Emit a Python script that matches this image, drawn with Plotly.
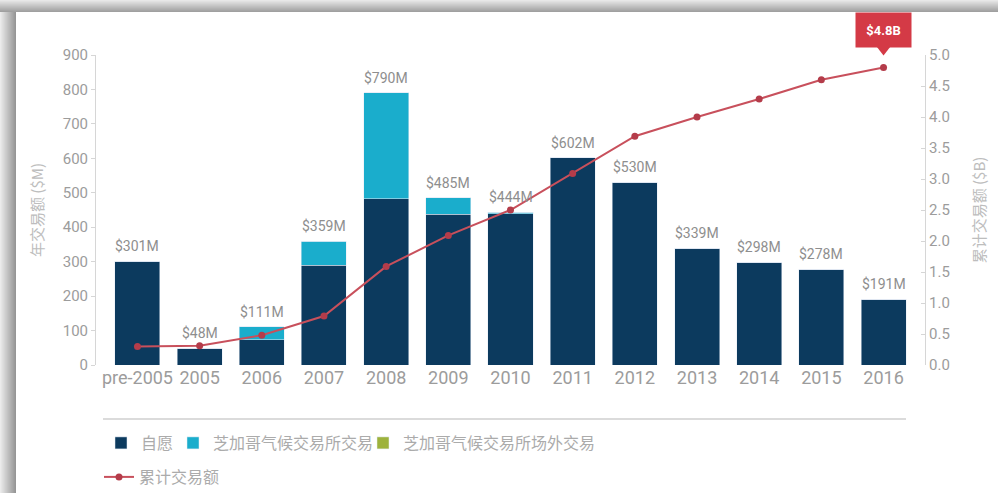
import plotly.graph_objects as go

# Annual transaction volume ($M) split by venue, and cumulative volume ($B)
categories = ["pre-2005", "2005", "2006", "2007", "2008", "2009", "2010",
              "2011", "2012", "2013", "2014", "2015", "2016"]
voluntary = [301, 48, 73, 290, 482, 438, 439, 602, 530, 339, 298, 278, 191]
ccx_exchange = [0, 0, 38, 69, 308, 47, 5, 0, 0, 0, 0, 0, 0]
ccx_otc = [0, 0, 0, 0, 0, 0, 0, 0, 0, 0, 0, 0, 0]
annual_totals = [301, 48, 111, 359, 790, 485, 444, 602, 530, 339, 298, 278, 191]
total_labels = ["$301M", "$48M", "$111M", "$359M", "$790M", "$485M", "$444M",
                "$602M", "$530M", "$339M", "$298M", "$278M", "$191M"]
cumulative = [0.30, 0.31, 0.48, 0.79, 1.59, 2.09, 2.50, 3.09, 3.69, 4.00, 4.29, 4.60, 4.80]
callout_text = "$4.8B"

NAVY = "#0c3a5e"
CYAN = "#1aadcc"
GREEN = "#9db23c"
RED = "#c8505c"
RED_DARK = "#b43c4a"
CALLOUT = "#d43a46"
LABEL_GREY = "#8e8e8e"
TICK_GREY = "#9c9c9c"
TITLE_GREY = "#bdbdbd"
NUM = "Roboto, sans-serif"
CJK = "Noto Sans CJK SC, sans-serif"

W, H = 998, 493
ML, MR, MT, MB = 96, 73, 55, 128
PW, PH = W - ML - MR, H - MT - MB
X_RANGE = [-0.667, 12.667]
Y_RANGE = [0, 900]
Y2_RANGE = [0, 5]


def px_x(p):
    return (p - ML) / PW


def px_y(p):
    return (H - MB - p) / PH


fig = go.Figure()

fig.add_trace(go.Bar(x=categories, y=voluntary, name="自愿", marker_color=NAVY,
                     legend="legend"))
fig.add_trace(go.Bar(x=categories, y=ccx_exchange, name="芝加哥气候交易所交易",
                     marker_color=CYAN, legend="legend2"))
fig.add_trace(go.Bar(x=categories, y=ccx_otc, name="芝加哥气候交易所场外交易",
                     marker_color=GREEN, legend="legend3"))
fig.add_trace(go.Scatter(x=categories, y=cumulative, name="累计交易额", yaxis="y2",
                         mode="lines+markers",
                         line=dict(color=RED, width=2),
                         marker=dict(color=RED_DARK, size=7),
                         legend="legend4"))

# value labels above each stacked bar (category axis positions by index)
annotations = []
for i, (tot, lab) in enumerate(zip(annual_totals, total_labels)):
    annotations.append(dict(x=i, y=tot, xref="x", yref="y", text=lab,
                            showarrow=False, yanchor="bottom", yshift=5,
                            font=dict(family=NUM, size=14, color=LABEL_GREY)))

last = len(categories) - 1
# red callout on the last cumulative point
annotations.append(dict(x=last, y=cumulative[-1], xref="x", yref="y2",
                        text="<b>" + callout_text + "</b>", showarrow=False,
                        yshift=37, width=55, height=34, borderpad=0,
                        bgcolor=CALLOUT,
                        font=dict(family=NUM, size=13, color="white")))

# pointer under the callout, anchored in paper space so it is not clipped
last_px = (last - X_RANGE[0]) / (X_RANGE[1] - X_RANGE[0])
last_py = (cumulative[-1] - Y2_RANGE[0]) / (Y2_RANGE[1] - Y2_RANGE[0])
shapes = [
    dict(type="path", xref="paper", yref="paper", xsizemode="pixel",
         ysizemode="pixel", xanchor=last_px, yanchor=last_py,
         path="M-7,21 L7,21 L0,12 Z", fillcolor=CALLOUT, line=dict(width=0)),
    # separator line above the legend
    dict(type="line", xref="paper", yref="paper", x0=px_x(103), x1=px_x(906),
         y0=px_y(419), y1=px_y(419), line=dict(color="#cfcfcf", width=1.5)),
]


def grey(v):
    return "rgb(%d,%d,%d)" % (v, v, v)


# card shadow along the top and left edges
for i in range(12):
    v = int(232 - (232 - 160) * i / 11)
    shapes.append(dict(type="rect", xref="paper", yref="paper", layer="above",
                       x0=px_x(0), x1=px_x(W), y0=px_y(i), y1=px_y(i + 1),
                       fillcolor=grey(v), line=dict(width=0)))
for i in range(16):
    v = int(235 - (235 - 150) * i / 15)
    shapes.append(dict(type="rect", xref="paper", yref="paper", layer="above",
                       x0=px_x(i), x1=px_x(i + 1), y0=px_y(12), y1=px_y(H),
                       fillcolor=grey(v), line=dict(width=0)))

legend_font = dict(family=CJK, size=16, color="#ababab")


def legend_at(px_left, px_mid_y):
    return dict(x=px_x(px_left), y=px_y(px_mid_y), xanchor="left", yanchor="middle",
                orientation="h", bgcolor="rgba(0,0,0,0)", font=legend_font,
                itemclick=False, itemdoubleclick=False)


fig.update_layout(
    width=W, height=H,
    margin=dict(l=ML, r=MR, t=MT, b=MB, autoexpand=False),
    paper_bgcolor="white", plot_bgcolor="white",
    showlegend=True,
    barmode="stack", bargap=0.276,
    xaxis=dict(type="category", range=X_RANGE, showline=False,
               showgrid=False, ticks="", tickangle=0,
               tickfont=dict(family=NUM, size=18, color=TICK_GREY),
               fixedrange=True),
    yaxis=dict(range=Y_RANGE, dtick=100, showgrid=False, zeroline=False,
               showline=True, linecolor="#d6d6d6", linewidth=1,
               ticks="outside", ticklen=4, tickcolor="#d6d6d6",
               tickfont=dict(family=NUM, size=15, color=TICK_GREY),
               title=dict(text="年交易额 ($M)", standoff=15,
                          font=dict(family=CJK, size=15, color=TITLE_GREY))),
    yaxis2=dict(range=Y2_RANGE, dtick=0.5, tickformat=".1f", overlaying="y",
                side="right", showgrid=False, zeroline=False,
                showline=True, linecolor="#d6d6d6", linewidth=1,
                ticks="inside", ticklen=4, tickcolor="#d6d6d6",
                tickfont=dict(family=NUM, size=15, color=TICK_GREY),
                title=dict(text="累计交易额 ($B)", standoff=25,
                           font=dict(family=CJK, size=15, color=TITLE_GREY))),
    legend=legend_at(101, 443),
    legend2=legend_at(173, 443),
    legend3=legend_at(363, 443),
    legend4=legend_at(99, 477),
    annotations=annotations,
    shapes=shapes,
)

fig.write_html("out.html")
